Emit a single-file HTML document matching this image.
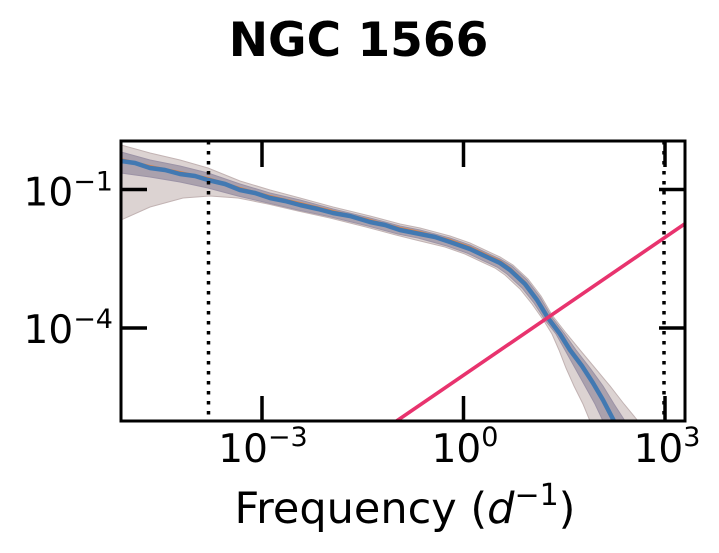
<!DOCTYPE html>
<html><head><meta charset="utf-8"><style>
html,body{margin:0;padding:0;background:#fff;}
svg{display:block;}
text{font-family:"DejaVu Sans","Liberation Sans",sans-serif;fill:#000;}
</style></head><body>
<svg width="719" height="553" viewBox="0 0 719 553" xmlns="http://www.w3.org/2000/svg">
<rect width="719" height="553" fill="#fff"/>
<text x="358.5" y="56" font-size="47" font-weight="bold" text-anchor="middle">NGC 1566</text>
<defs><clipPath id="ax"><rect x="121" y="141" width="564" height="280"/></clipPath></defs>
<g clip-path="url(#ax)">
<path d="M121,145 L150,153 L180,160 L208,168 L240,181 L270,190 L300,198 L333,207 L370,216 L400,224 L420,228 L450,236 L470,243 L487,251 L500,257 L513,265 L528,279 L541,296 L552,315 L566,333 L580,350 L595,368 L610,386 L624,404 L638,421 L590,421 L583,404 L574,386 L566,368 L559,350 L552,334 L544,321 L532,304 L520,289 L505,275 L495,268 L482,262 L465,254 L445,247 L416,240 L396,235 L366,227 L330,218 L298,211 L268,204 L238,198 L210,196 L183,198 L150,207 L121,220 Z" fill="#dcd3d2" stroke="#c2b3b3" stroke-width="1"/>
<path d="M121,152 L150,160 L180,166 L208,173 L240,184 L270,193 L300,200 L333,209 L370,218 L400,226 L420,230 L450,238 L470,245 L487,253 L500,259 L512,266 L527,280 L540,297 L551,316 L564,333 L576,350 L590,368 L603,386 L614,404 L625,421 L603,421 L595,404 L585,386 L575,368 L565,350 L556,334 L545,320 L534,303 L522,288 L507,274 L497,267 L484,261 L467,253 L447,246 L418,238 L398,234 L368,226 L331,217 L298,210 L268,203 L238,196 L208,188 L180,182 L150,177 L121,173 Z" fill="#aaa1ad" stroke="#9c93a6" stroke-width="1"/>
<polyline transform="translate(0,-2)" points="121,161 150,168 180,174 208,180 240,190 270,198 300,205 333,213 370,222 400,230 420,234 450,242 470,249 487,257 500,263 510,270 525,284 537,300 548,318 560,334 570,350 582,366 593,383 603,400 614,421" fill="none" stroke="#e0823f" stroke-width="2"/>
<polyline points="121,161 135,163 150,168 165,170 180,174 195,176 208,180 225,184 240,190 255,193 270,198 285,201 300,205 318,209 333,213 350,216 370,222 385,225 400,230 420,234 435,237 450,242 470,249 487,257 500,263 510,270 525,284 537,300 548,318 560,334 570,350 582,366 593,383 603,400 614,421" fill="none" stroke="#4279b2" stroke-width="4.5" stroke-linejoin="round"/>
<line x1="396" y1="421.4" x2="686" y2="223" stroke="#e8336e" stroke-width="3.6"/>
<line x1="208.5" y1="141" x2="208.5" y2="421" stroke="#000" stroke-width="3.5" stroke-dasharray="3.5,6.5"/>
<line x1="664" y1="141" x2="664" y2="421" stroke="#000" stroke-width="3.5" stroke-dasharray="3.5,6.5"/>
</g>
<g stroke="#000" stroke-width="3.5">
<line x1="262" y1="421" x2="262" y2="396"/>
<line x1="463.5" y1="421" x2="463.5" y2="396"/>
<line x1="665" y1="421" x2="665" y2="396"/>
<line x1="262" y1="141" x2="262" y2="167"/>
<line x1="463.5" y1="141" x2="463.5" y2="167"/>
<line x1="665" y1="141" x2="665" y2="167"/>
<line x1="121" y1="189.5" x2="147" y2="189.5"/>
<line x1="121" y1="328" x2="147" y2="328"/>
<line x1="685" y1="189.5" x2="659" y2="189.5"/>
<line x1="685" y1="328" x2="659" y2="328"/>
</g>
<rect x="121" y="141" width="564" height="280" fill="none" stroke="#000" stroke-width="3"/>
<text x="263" y="462" font-size="39" text-anchor="middle">10<tspan font-size="27" dy="-16">−3</tspan></text>
<text x="465" y="462" font-size="39" text-anchor="middle">10<tspan font-size="27" dy="-16">0</tspan></text>
<text x="667" y="462" font-size="39" text-anchor="middle">10<tspan font-size="27" dy="-16">3</tspan></text>
<text x="113" y="205.5" font-size="39" text-anchor="end">10<tspan font-size="27" dy="-15">−1</tspan></text>
<text x="113" y="343" font-size="39" text-anchor="end">10<tspan font-size="27" dy="-15">−4</tspan></text>
<text x="405" y="523" font-size="43" text-anchor="middle">Frequency (<tspan font-style="italic">d</tspan><tspan font-size="30" dy="-18">−1</tspan><tspan dy="18">)</tspan></text>
</svg>
</body></html>
